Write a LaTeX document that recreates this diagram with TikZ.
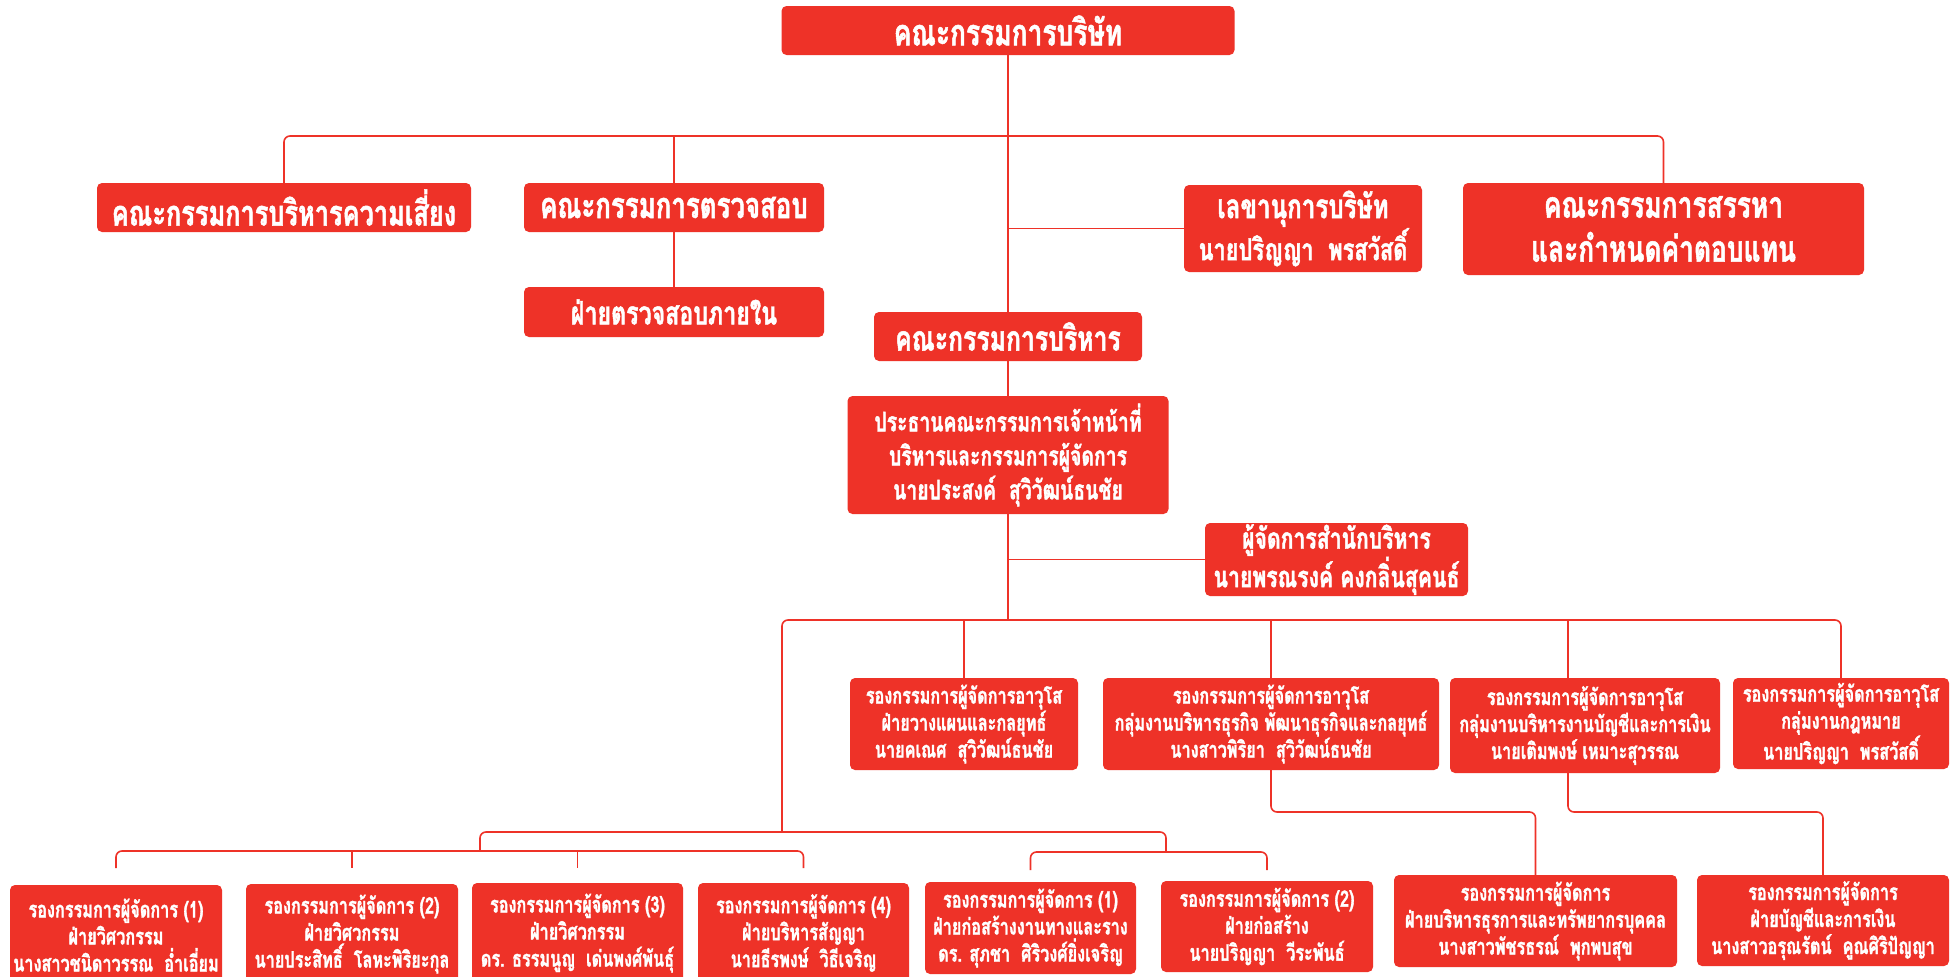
\documentclass[tikz,border=0pt]{standalone}
\usepackage{fontspec}
\newfontfamily\thaifont[Script=Thai,FakeStretch=0.72,FakeBold=1.4]{Loma}
\definecolor{orgred}{RGB}{238,50,40}
\newcommand{\fsz}[2]{\fontsize{#1}{#2}\selectfont}
\begin{document}
\begin{tikzpicture}[x=1pt,y=-1pt,
  box/.style={fill=orgred, draw=none, rounded corners=5pt, text=white, align=center, inner sep=0pt},
  conn/.style={draw=orgred, line width=1.6pt, rounded corners=6pt},
  fT/.style={font=\thaifont\bfseries\fsz{#1}{44}},
  fC/.style={font=\thaifont\bfseries\fsz{#1}{34}},
  fD/.style={font=\thaifont\bfseries\fsz{22.6}{27}}]
\fill[white] (0,0) rectangle (1955,977);
\useasboundingbox (0,0) rectangle (1955,977);
\clip (0,0) rectangle (1955,977);
% boxes
\node[box,fT=36.6,minimum width=453pt,minimum height=49pt] (top) at (1008,30.5) {คณะกรรมการบริษัท};
\node[box,fT=35.2,minimum width=374pt,minimum height=49pt] (risk) at (284,207.5) {คณะกรรมการบริหารความเสี่ยง};
\node[box,fT=35.9,minimum width=300pt,minimum height=49pt] (audit) at (674,207.5) {คณะกรรมการตรวจสอบ};
\node[box,fT=32.2,minimum width=300pt,minimum height=50pt] (inaudit) at (674,312) {ฝ่ายตรวจสอบภายใน};
\node[box,fT=33.6,minimum width=238pt,minimum height=87pt] (sec) at (1303,228.5) {เลขานุการบริษัท\\[-2pt]{\fsz{30.3}{33}นายปริญญา\ \ พรสวัสดิ์}};
\node[box,fT=36.6,minimum width=401pt,minimum height=92pt] (nom) at (1663.5,229) {คณะกรรมการสรรหา\\และกำหนดค่าตอบแทน};
\node[box,fT=34.4,minimum width=268pt,minimum height=49pt] (exec) at (1008,336.5) {คณะกรรมการบริหาร};
\node[box,fC=26.9,minimum width=321pt,minimum height=118pt] (ceo) at (1008,455) {ประธานคณะกรรมการเจ้าหน้าที่\\บริหารและกรรมการผู้จัดการ\\นายประสงค์\ \ สุวิวัฒน์ธนชัย};
\node[box,fC=29.4,minimum width=263pt,minimum height=73pt] (off) at (1336.5,559.5) {ผู้จัดการสำนักบริหาร\\นายพรณรงค์ คงกลิ่นสุคนธ์};
\node[box,fD,minimum width=228pt,minimum height=92pt] (A) at (964,724) {รองกรรมการผู้จัดการอาวุโส\\ฝ่ายวางแผนและกลยุทธ์\\นายคเณศ\ \ สุวิวัฒน์ธนชัย};
\node[box,fD,minimum width=336pt,minimum height=92pt] (B) at (1271,724) {รองกรรมการผู้จัดการอาวุโส\\กลุ่มงานบริหารธุรกิจ พัฒนาธุรกิจและกลยุทธ์\\นางสาวพิริยา\ \ สุวิวัฒน์ธนชัย};
\node[box,fD,minimum width=270pt,minimum height=95pt] (C) at (1585,725.5) {รองกรรมการผู้จัดการอาวุโส\\กลุ่มงานบริหารงานบัญชีและการเงิน\\นายเติมพงษ์ เหมาะสุวรรณ};
\node[box,fD,minimum width=216pt,minimum height=91pt] (D) at (1841,723.5) {รองกรรมการผู้จัดการอาวุโส\\กลุ่มงานกฎหมาย\\นายปริญญา\ \ พรสวัสดิ์};
\node[box,fD,minimum width=212pt,minimum height=100pt] (L1) at (116,935) {รองกรรมการผู้จัดการ (1)\\ฝ่ายวิศวกรรม\\นางสาวชนิดาวรรณ\ \ อ่ำเอี่ยม};
\node[box,fD,minimum width=212pt,minimum height=100pt] (L2) at (352,934) {รองกรรมการผู้จัดการ (2)\\ฝ่ายวิศวกรรม\\นายประสิทธิ์\ \ โลหะพิริยะกุล};
\node[box,fD,minimum width=211pt,minimum height=100pt] (L3) at (577.5,933) {รองกรรมการผู้จัดการ (3)\\ฝ่ายวิศวกรรม\\ดร. ธรรมนูญ\ \ เด่นพงศ์พันธุ์};
\node[box,fD,minimum width=211pt,minimum height=100pt] (L4) at (803.5,933) {รองกรรมการผู้จัดการ (4)\\ฝ่ายบริหารสัญญา\\นายธีรพงษ์\ \ วิธีเจริญ};
\node[box,fD,minimum width=211pt,minimum height=92pt] (R1) at (1030.5,928) {รองกรรมการผู้จัดการ (1)\\ฝ่ายก่อสร้างงานทางและราง\\ดร. สุภชา\ \ ศิริวงศ์ยิ่งเจริญ};
\node[box,fD,minimum width=212pt,minimum height=91pt] (R2) at (1267,926.5) {รองกรรมการผู้จัดการ (2)\\ฝ่ายก่อสร้าง\\นายปริญญา\ \ วีระพันธ์};
\node[box,fD,minimum width=283pt,minimum height=92pt] (HR) at (1535.5,921) {รองกรรมการผู้จัดการ\\ฝ่ายบริหารธุรการและทรัพยากรบุคคล\\นางสาวพัชรธรณ์\ \ พุกพบสุข};
\node[box,fD,minimum width=252pt,minimum height=91pt] (Fin) at (1823,920.5) {รองกรรมการผู้จัดการ\\ฝ่ายบัญชีและการเงิน\\นางสาวอรุณรัตน์\ \ คูณศิริปัญญา};
% junction coordinates
\coordinate (j1) at (1008,136);
\coordinate (j4) at (1008,620);
\coordinate (j6) at (782,832);
\coordinate (ul) at (480,851);
\coordinate (ur) at (1166,852);
\coordinate (dl) at (0,868);
\coordinate (dr) at (0,870);
\coordinate (hb) at (0,812);
\coordinate (cx) at (1568,0);
% connectors
\draw[conn] (top.south) -- (exec.north);
\draw[conn] (exec.south) -- (ceo.north);
\draw[conn] (ceo.south) -- (j4);
\draw[conn] (risk.north) |- (j1) -| (nom.north);
\draw[conn] (audit.north |- j1) -- (audit.north);
\draw[conn] (audit.south) -- (inaudit.north);
\draw[conn] (sec.west -| top.south) -- (sec.west);
\draw[conn] (off.west -| top.south) -- (off.west);
\draw[conn] (j6) |- (j4) -| (D.north);
\draw[conn] (A.north |- j4) -- (A.north);
\draw[conn] (B.north |- j4) -- (B.north);
\draw[conn] (cx |- j4) -- (C.north -| cx);
\draw[conn] (ul) |- (j6) -| (ur);
\draw[conn] (L1.north |- dl) |- (ul) -| (L4.north |- dl);
\draw[conn] (L2.north |- ul) -- (L2.north |- dl);
\draw[conn] (L3.north |- ul) -- (L3.north |- dl);
\draw[conn] (R1.north |- dr) |- (ur) -| (R2.north |- dr);
\draw[conn] (B.south) -- (B.south |- hb) -- (HR.north |- hb) -- (HR.north);
\draw[conn] (C.south -| cx) -- (cx |- hb) -- (Fin.north |- hb) -- (Fin.north);
\end{tikzpicture}
\end{document}
